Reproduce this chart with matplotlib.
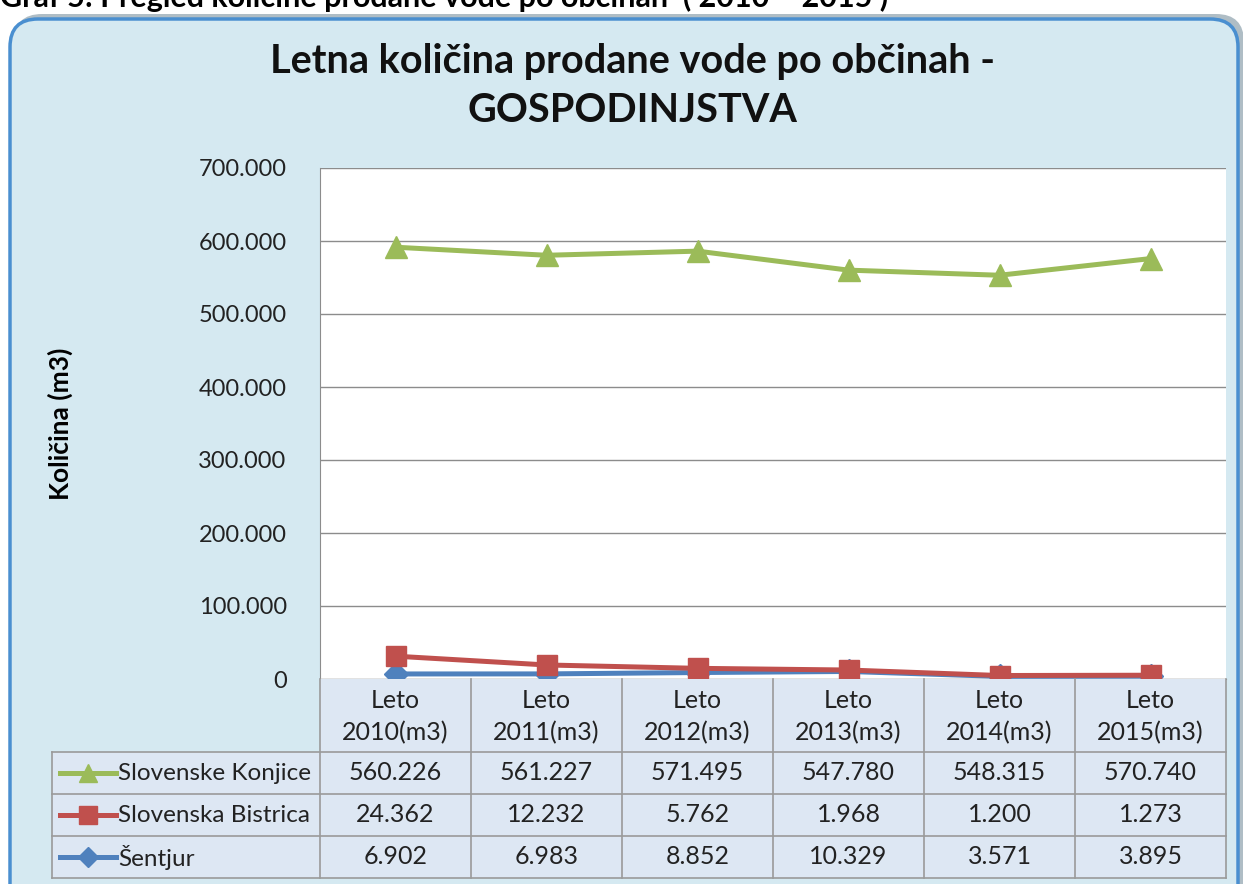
import numpy as np
import matplotlib.pyplot as plt
from matplotlib.patches import FancyBboxPatch, Rectangle
from matplotlib.lines import Line2D

plt.rcParams['font.family'] = ['Lato', 'DejaVu Sans']

################################################################################################

years = ['2010', '2011', '2012', '2013', '2014', '2015']
categories = ['Leto\n%s(m3)' % y for y in years]

sentjur = [6902, 6983, 8852, 10329, 3571, 3895]
bistrica = [24362, 12232, 5762, 1968, 1200, 1273]
konjice = [560226, 561227, 571495, 547780, 548315, 570740]

# series listed top to bottom as in the data table
names = ['Slovenske Konjice', 'Slovenska Bistrica', 'Šentjur']
values = [konjice, bistrica, sentjur]
colors = ['#9bbb59', '#c0504d', '#4f81bd']
markers = ['^', 's', 'D']
msizes = [16, 15, 12]

yticks = np.arange(0, 700001, 100000)

################################################################################################

W, H = 1243, 884
fig = plt.figure(figsize=(W/100, H/100), dpi=100)
fig.patch.set_facecolor('white')

def fx(px):
    return px/W

def fy(py):
    return 1 - py/H

def fmt(v):
    return '{:,}'.format(v).replace(',', '.')

# background panel in pixel space
bg = fig.add_axes([0, 0, 1, 1])
bg.set_xlim(0, W)
bg.set_ylim(H, 0)
bg.axis('off')

shadow = FancyBboxPatch((14, 14), 1230, 900, boxstyle='round,pad=0,rounding_size=28',
                        fc='#6d8796', ec='none', alpha=0.55)
bg.add_patch(shadow)
panel = FancyBboxPatch((10, 19), 1228, 900, boxstyle='round,pad=0,rounding_size=28',
                       fc='#d5e9f1', ec='#4a8fd0', lw=2.5)
bg.add_patch(panel)

fig.text(0.0, fy(-3), 'Graf 5: Pregled količine prodane vode po občinah  ( 2010 – 2015 )',
         fontsize=22, fontweight='bold', va='center', ha='left')

fig.text(fx(632), fy(62), 'Letna količina prodane vode po občinah -', fontsize=28.5,
         fontweight='bold', ha='center', va='center', color='#111111')
fig.text(fx(632), fy(110), 'GOSPODINJSTVA', fontsize=28.5,
         fontweight='bold', ha='center', va='center', color='#111111')

fig.text(fx(60), fy(424), 'Količina (m3)', rotation=90, fontsize=19, fontweight='bold',
         ha='center', va='center')

################################################################################################

x0, x1 = 320, 1226
ytop, ybot = 168, 679
ax = fig.add_axes([fx(x0), fy(ybot), fx(x1) - fx(x0), fy(ytop) - fy(ybot)])
ax.set_facecolor('white')
ax.set_xlim(-0.5, len(years) - 0.5)
ax.set_ylim(0, 700000)
ax.set_yticks(yticks)
ax.set_yticklabels([fmt(v) for v in yticks], fontsize=17, color='#222222')
ax.tick_params(axis='y', length=0, pad=24)
ax.set_xticks([])
ax.grid(axis='y', color='#8c8c8c', lw=1)
ax.set_axisbelow(True)
for s in ['top', 'right']:
    ax.spines[s].set_visible(False)
ax.spines['left'].set_color('#8c8c8c')
ax.spines['bottom'].set_color('#8c8c8c')

# stacked line chart
xs = np.arange(len(years))
stack = np.cumsum(np.array(values[::-1]), axis=0)[::-1]
for i in range(len(names))[::-1]:
    ax.plot(xs, stack[i], color=colors[i], lw=3.6, marker=markers[i], ms=msizes[i],
            clip_on=False, zorder=3)

################################################################################################

# category row + data table
tab = fig.add_axes([0, 0, 1, 1])
tab.set_xlim(0, W)
tab.set_ylim(H, 0)
tab.axis('off')

cw = (x1 - x0)/len(years)
cat_top, cat_bot = 679, 752
row_h = 42
leg_x = 52
gc = '#9a9a9a'

tab.add_patch(Rectangle((x0, cat_top), x1 - x0, cat_bot - cat_top, fc='#dde7f3', ec='none'))
tab.add_patch(Rectangle((leg_x, cat_bot), x1 - leg_x, row_h*len(names), fc='#dde7f3', ec='none'))

for j, c in enumerate(categories):
    tab.text(x0 + cw*(j + 0.5), (cat_top + cat_bot)/2 + 1, c, ha='center', va='center',
             fontsize=18, linespacing=1.45, color='#222222')

# grid lines
for j in range(len(years) + 1):
    tab.plot([x0 + cw*j]*2, [cat_top, cat_bot + row_h*len(names)], color=gc, lw=1.2)
tab.plot([leg_x]*2, [cat_bot, cat_bot + row_h*len(names)], color=gc, lw=1.2)
for i in range(len(names) + 1):
    tab.plot([leg_x, x1], [cat_bot + row_h*i]*2, color=gc, lw=1.2)

for i, (n, vals) in enumerate(zip(names, values)):
    yc = cat_bot + row_h*(i + 0.5)
    tab.add_line(Line2D([leg_x + 8, leg_x + 64], [yc, yc], color=colors[i], lw=3.6))
    tab.add_line(Line2D([leg_x + 36], [yc], color=colors[i], marker=markers[i],
                        ms=msizes[i]*0.85, lw=0))
    tab.text(leg_x + 66, yc, n, ha='left', va='center', fontsize=17.5, color='#222222')
    for j, v in enumerate(vals):
        tab.text(x0 + cw*(j + 0.5), yc, fmt(v),
                 ha='center', va='center', fontsize=18, color='#222222')

fig.savefig('out.png', dpi=100)
